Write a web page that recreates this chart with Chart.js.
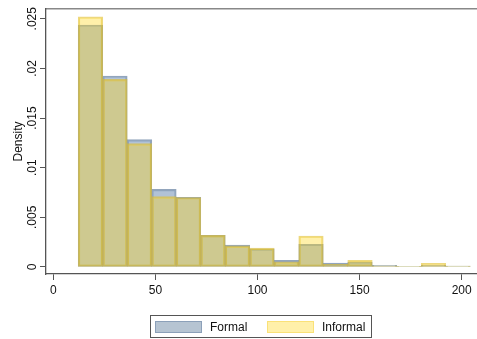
<!DOCTYPE html>
<html><head><meta charset="utf-8">
<script src="https://cdn.jsdelivr.net/npm/chart.js@4"></script>
<style>
html,body{margin:0;padding:0;background:#fff;overflow:hidden}
#wrap{position:relative;width:477px;height:339px}
#c{position:absolute;left:0;top:0}
#legend{position:absolute;left:150px;top:315px;width:220px;height:21px;border:1px solid #555;font:12px "Liberation Sans",Arial,sans-serif;color:#111}
.sw{position:absolute;top:5px;width:45px;height:10px;border:1px solid}
.lb{position:absolute;top:4px;line-height:14px;white-space:nowrap}
</style></head>
<body>
<div id="wrap">
<canvas id="c" width="477" height="339"></canvas>
<div id="legend">
  <div class="sw" style="left:4px;background:rgb(182,196,210);border-color:rgb(140,160,185)"></div>
  <div class="lb" style="left:59px">Formal</div>
  <div class="sw" style="left:116px;background:rgb(255,240,170);border-color:rgb(250,225,120)"></div>
  <div class="lb" style="left:171px">Informal</div>
</div>
</div>
<script>
const binEdges = [12.2, 24.2, 36.2, 48.2, 60.2, 72.2, 84.2, 96.2, 108.2, 120.2, 132.2, 144.2, 156.2, 168.2, 180.2, 192.2, 204.2];
const formalDensity   = [0.02437, 0.01923, 0.01282, 0.00782, 0.00702, 0.00319, 0.00220, 0.00183, 0.00067, 0.00229, 0.00040, 0.00050, 0.00018, 0.00006, 0.00017, 0.00010];
const informalDensity = [0.02520, 0.01890, 0.01242, 0.00708, 0.00700, 0.00319, 0.00212, 0.00190, 0.00053, 0.00312, 0.00027, 0.00067, 0.00012, 0.00006, 0.00037, 0.00008];
const xTicks = [0, 50, 100, 150, 200];
const yTicks = [0, 0.005, 0.01, 0.015, 0.02, 0.025];
const yTickLabels = ['0', '.005', '.01', '.015', '.02', '.025'];
const seriesNames = ['Formal', 'Informal'];

const centers = binEdges.slice(0, -1).map((e, i) => (e + binEdges[i + 1]) / 2);
const toPoints = arr => arr.map((v, i) => ({x: centers[i], y: v}));

Chart.defaults.font.family = '"Liberation Sans", Arial, sans-serif';
Chart.defaults.font.size = 12;
Chart.defaults.color = '#111';

new Chart(document.getElementById('c'), {
  type: 'bar',
  data: {
    datasets: [
      {
        label: seriesNames[0], data: toPoints(formalDensity), order: 2, grouped: false,
        backgroundColor: 'rgba(140,165,195,0.68)', borderColor: 'rgba(110,135,165,0.75)',
        borderWidth: 1.5, borderSkipped: false, barPercentage: 1, categoryPercentage: 1
      },
      {
        label: seriesNames[1], data: toPoints(informalDensity), order: 1, grouped: false,
        backgroundColor: 'rgba(255,214,25,0.37)', borderColor: 'rgba(225,190,40,0.6)',
        borderWidth: 1.5, borderSkipped: false, barPercentage: 1, categoryPercentage: 1
      }
    ]
  },
  options: {
    responsive: false, animation: false,
    layout: {padding: {top: 9, left: 0, right: 0, bottom: 0}},
    plugins: {legend: {display: false}, tooltip: {enabled: false}},
    scales: {
      x: {
        type: 'linear', position: 'bottom', offset: false,
        min: -3.58, max: 207.5,
        afterBuildTicks: s => { s.ticks = xTicks.map(v => ({value: v})); },
        afterFit: s => { s.height = 65; },
        grid: {display: true, offset: false, drawOnChartArea: false, drawTicks: true, tickLength: 6, tickColor: '#555', tickWidth: 1},
        border: {display: true, color: '#555', width: 1.3},
        ticks: {padding: 3, maxRotation: 0, autoSkip: false, font: {size: 12}, color: '#111'}
      },
      xTop: {
        type: 'linear', position: 'top', min: -3.58, max: 207.5,
        afterFit: s => { s.height = 0; },
        grid: {display: false, drawTicks: false},
        border: {display: true, color: '#888', width: 1.5},
        ticks: {display: false}
      },
      y: {
        type: 'linear', position: 'left',
        min: -0.000705, max: 0.02598,
        afterBuildTicks: s => { s.ticks = yTicks.map(v => ({value: v})); },
        afterFit: s => { s.width = 46; },
        grid: {display: true, offset: false, drawOnChartArea: false, drawTicks: true, tickLength: 6, tickColor: '#555', tickWidth: 1},
        border: {display: true, color: '#555', width: 1.3},
        ticks: {
          minRotation: 90, maxRotation: 90, crossAlign: 'center', padding: -4,
          autoSkip: false, font: {size: 12}, color: '#111',
          callback: (v, i) => yTickLabels[i]
        },
        title: {display: true, text: 'Density', font: {size: 12}, color: '#111', padding: {top: 11, bottom: 0}}
      }
    }
  }
});
</script>
</body></html>
